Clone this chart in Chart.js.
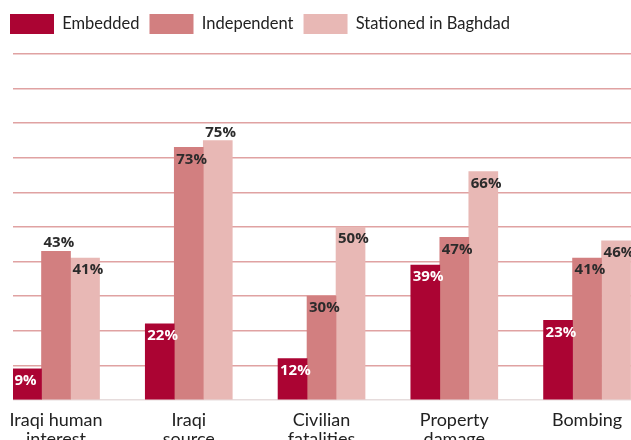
<!DOCTYPE html>
<html>
<head>
<meta charset="utf-8">
<script src="https://cdn.jsdelivr.net/npm/chart.js@4/dist/chart.umd.min.js"></script>
<style>
  html, body { margin: 0; padding: 0; background: #fff; }
  #wrap { width: 631px; height: 440px; }
</style>
</head>
<body>
<div id="wrap"><canvas id="chart"></canvas></div>
<script>
const categories = [
    ['Iraqi human', 'interest'],
    ['Iraqi', 'source'],
    ['Civilian', 'fatalities'],
    ['Property', 'damage'],
    ['Bombing']
];
const embedded = [9, 22, 12, 39, 23];
const independent = [43, 73, 30, 47, 41];
const stationed = [41, 75, 50, 66, 46];

const seriesNames = ['Embedded', 'Independent', 'Stationed in Baghdad'];
const colors = ['#ab0433', '#d27f80', '#e8b8b5'];
const labelColors = ['#ffffff', '#2b2b2b', '#2b2b2b'];

// labels that sit above their bar instead of inside it ("dataset:index")
const labelsAbove = ['1:0', '2:1'];

function toPoints(values) {
    return values.map(function (v, i) { return { x: i, y: v }; });
}

const FONT = "Lato, 'Open Sans', sans-serif";
const VFONT = "'Open Sans', 'Noto Sans', sans-serif";

const valueLabels = {
    id: 'valueLabels',
    afterDatasetsDraw: function (chart) {
        const ctx = chart.ctx;
        ctx.save();
        ctx.font = 'bold 15px ' + VFONT;
        ctx.textAlign = 'left';
        ctx.textBaseline = 'middle';
        chart.data.datasets.forEach(function (ds, di) {
            const meta = chart.getDatasetMeta(di);
            meta.data.forEach(function (bar, i) {
                const above = labelsAbove.indexOf(di + ':' + i) >= 0;
                const x = bar.x - bar.width / 2 + 2;
                const y = above ? bar.y - 8 : bar.y + 12;
                ctx.fillStyle = above ? '#2b2b2b' : labelColors[di];
                ctx.fillText(ds.data[i].y + '%', x, y);
            });
        });
        ctx.restore();
    }
};

const legendHeight = {
    id: 'legendHeight',
    beforeInit: function (chart) {
        const fit = chart.legend.fit;
        chart.legend.fit = function () {
            fit.bind(chart.legend)();
            this.height = 50;
        };
    }
};

const chart = new Chart(document.getElementById('chart'), {
    type: 'bar',
    data: {
        datasets: [
            { label: seriesNames[0], data: toPoints(embedded), backgroundColor: colors[0] },
            { label: seriesNames[1], data: toPoints(independent), backgroundColor: colors[1] },
            { label: seriesNames[2], data: toPoints(stationed), backgroundColor: colors[2] }
        ]
    },
    options: {
        responsive: true,
        maintainAspectRatio: false,
        animation: false,
        barThickness: 29,
        layout: { padding: { top: 4, left: 0, right: 0, bottom: 0 } },
        plugins: {
            legend: {
                align: 'start',
                labels: {
                    boxWidth: 44,
                    boxHeight: 20,
                    padding: 10,
                    color: '#222',
                    font: { family: FONT, size: 16.5 }
                }
            },
            tooltip: { enabled: false }
        },
        scales: {
            x: {
                type: 'linear',
                offset: false,
                min: -0.324,
                max: 4.331,
                grid: { display: false, offset: false },
                border: { display: false },
                afterFit: function (s) { s.height = 40; },
                ticks: {
                    stepSize: 1,
                    includeBounds: false,
                    autoSkip: false,
                    maxRotation: 0,
                    padding: 3,
                    color: '#222',
                    font: { family: FONT, size: 18, lineHeight: 1.05 },
                    callback: function (v) {
                        return Number.isInteger(v) && categories[v] ? categories[v] : '';
                    }
                }
            },
            y: {
                min: 0,
                max: 100,
                afterFit: function (s) { s.width = 13; },
                border: { display: false },
                grid: {
                    drawTicks: false,
                    lineWidth: 1.5,
                    color: function (c) {
                        return c.tick && c.tick.value === 0 ? '#e6dcdc' : '#e0a2a2';
                    }
                },
                ticks: { display: false, stepSize: 10 }
            }
        }
    },
    plugins: [valueLabels, legendHeight]
});
</script>
</body>
</html>
